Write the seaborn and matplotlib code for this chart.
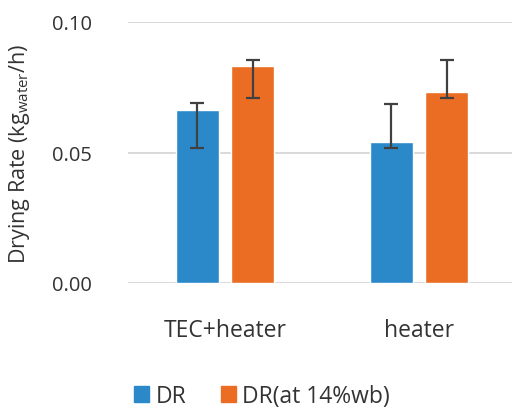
import numpy as np
import pandas as pd
import matplotlib
matplotlib.use("Agg")
import matplotlib.pyplot as plt
import seaborn as sns

# data
groups = ["TEC+heater", "heater"]
series = ["DR", "DR(at 14%wb)"]
dr = [0.0663, 0.0541]
dr_14 = [0.0833, 0.0730]
dr_err_low = [0.0519, 0.0519]
dr_err_high = [0.0688, 0.0687]
dr14_err_low = [0.0709, 0.0709]
dr14_err_high = [0.0855, 0.0855]

colors = ["#2B88C9", "#EB6D24"]

df = pd.DataFrame({
    "group": groups * 2,
    "series": [series[0]] * 2 + [series[1]] * 2,
    "value": dr + dr_14,
})

sns.set_style("white")
plt.rcParams["font.family"] = ["Open Sans", "DejaVu Sans"]

fig = plt.figure(figsize=(5.12, 4.10), dpi=100)
ax = fig.add_axes([128 / 512, 1 - 284 / 410, 388 / 512, 261 / 410])

sns.barplot(data=df, x="group", y="value", hue="series", order=groups,
            hue_order=series, palette=colors, width=0.572, gap=0.225,
            errorbar=None, saturation=1, ax=ax, legend=True)

# asymmetric error bars at the bar centres
lows = [dr_err_low, dr14_err_low]
highs = [dr_err_high, dr14_err_high]
bar_containers = list(ax.containers)
for i, cont in enumerate(bar_containers):
    xs = [p.get_x() + p.get_width() / 2 for p in cont.patches]
    mid = [(lo + hi) / 2 for lo, hi in zip(lows[i], highs[i])]
    half = [(hi - lo) / 2 for lo, hi in zip(lows[i], highs[i])]
    ax.errorbar(xs, mid, yerr=half, fmt="none", ecolor="#404040",
                elinewidth=1.6, capsize=4.7, capthick=1.6, zorder=5)

ax.set_ylim(0, 0.10)
ax.set_xlim(-0.5, 1.5)
ax.set_yticks([0.0, 0.05, 0.10])
ax.set_yticklabels(["0.00", "0.05", "0.10"])
ax.yaxis.grid(True, color="#D9D9D9", linewidth=1.4)
ax.set_axisbelow(True)
for s in ax.spines.values():
    s.set_visible(False)
ax.tick_params(axis="y", length=0, pad=26, labelsize=14.5, labelcolor="#333333")
ax.tick_params(axis="x", length=0, pad=25, labelsize=16.5, labelcolor="#333333")
ax.set_xlabel("")
ax.set_ylabel("Drying Rate (kg$_{\\mathregular{water}}$/h)", fontsize=15.5,
              color="#333333")
ax.yaxis.set_label_coords(-0.247, 0.5)

ax.get_legend().remove()
handles = [plt.Rectangle((0, 0), 1, 1, color=c) for c in colors]
fig.legend(handles, series, loc="center", bbox_to_anchor=(262 / 512, 1 - 397 / 410),
           ncol=2, frameon=False, fontsize=16.5, handlelength=0.65, handleheight=0.65,
           handletextpad=0.3, columnspacing=1.5, labelcolor="#333333")

fig.savefig("out.png", dpi=100)
